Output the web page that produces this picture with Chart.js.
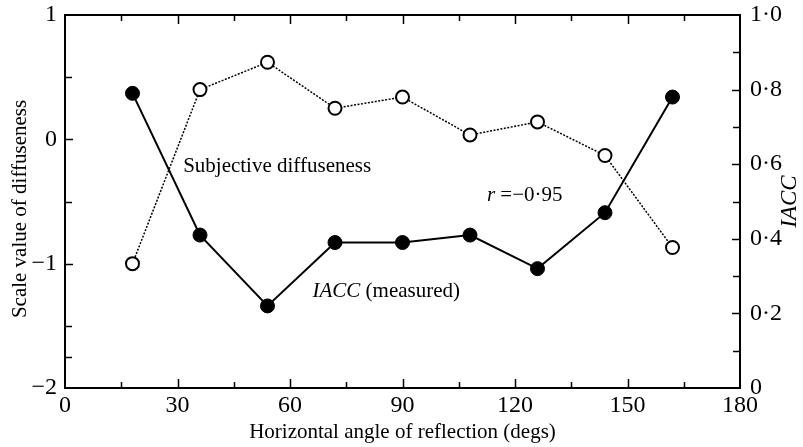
<!DOCTYPE html>
<html>
<head>
<meta charset="utf-8">
<script src="https://cdn.jsdelivr.net/npm/chart.js@4/dist/chart.umd.min.js"></script>
<style>
  html, body { margin: 0; padding: 0; background: #fff; }
  #wrap { width: 803px; height: 447px; }
</style>
</head>
<body>
<div id="wrap"><canvas id="c" width="803" height="447"></canvas></div>
<script>
// Reflection angles (degrees)
const angles = [18, 36, 54, 72, 90, 108, 126, 144, 162];
// Scale value of subjective diffuseness (left axis)
const diffuseness = [-1.00, 0.40, 0.62, 0.25, 0.34, 0.035, 0.14, -0.13, -0.87];
// Measured IACC (right axis)
const iacc = [0.79, 0.41, 0.22, 0.39, 0.39, 0.41, 0.32, 0.47, 0.78];

// Axis ticks
const xTicks = [0, 30, 60, 90, 120, 150, 180];
const xMinorTicks = [15, 45, 75, 105, 135, 165];
const leftTicks = [-2, -1, 0, 1];
const leftMinorTicks = [0.5, -0.5, -1.5, -1.75];
const rightTicks = [0, 0.2, 0.4, 0.6, 0.8, 1.0];
const rightMinorTicks = [0.1, 0.3, 0.5, 0.7, 0.9];

const SERIF = '"Liberation Serif", "Times New Roman", serif';
const FS = 21;      // titles and in-plot labels
const TICK_FS = 24; // tick labels

const fmtDot = v => (v === 0 ? '0' : v.toFixed(1).replace('.', '\u00B7'));
const fmtMinus = v => (v < 0 ? '\u2212' + Math.abs(v) : String(v));

// Keep the plot frame fixed regardless of label overhang
const noPad = s => { s.paddingTop = 0; s.paddingBottom = 0; s.paddingLeft = 0; s.paddingRight = 0; };
const hiddenGrid = { display: false, drawTicks: false, drawOnChartArea: false };

// Inward tick marks on all four sides plus the closed frame
const framePlugin = {
  id: 'frame',
  afterDraw(chart) {
    const { ctx, chartArea: a, scales } = chart;
    ctx.save();
    ctx.strokeStyle = '#000';
    ctx.lineWidth = 2;
    ctx.strokeRect(a.left, a.top, a.right - a.left, a.bottom - a.top);
    ctx.lineWidth = 1.5;
    const vTick = (vals, len) => vals.forEach(v => {
      const px = Math.round(scales.x.getPixelForValue(v)) + 0.5;
      ctx.beginPath();
      ctx.moveTo(px, a.bottom); ctx.lineTo(px, a.bottom - len);
      ctx.moveTo(px, a.top); ctx.lineTo(px, a.top + len);
      ctx.stroke();
    });
    vTick(xTicks.slice(1, -1), 9);
    vTick(xMinorTicks, 6);
    const hTick = (scale, vals, len, left) => vals.forEach(v => {
      const py = Math.round(scale.getPixelForValue(v)) + 0.5;
      ctx.beginPath();
      if (left) { ctx.moveTo(a.left, py); ctx.lineTo(a.left + len, py); }
      else { ctx.moveTo(a.right, py); ctx.lineTo(a.right - len, py); }
      ctx.stroke();
    });
    hTick(scales.y, leftTicks.slice(1, -1), 8, true);
    hTick(scales.y, leftMinorTicks, 7, true);
    hTick(scales.y2, rightTicks.slice(1, -1), 8, false);
    hTick(scales.y2, rightMinorTicks, 7, false);
    ctx.restore();
  }
};

// Vertical axis titles (both read bottom-to-top) and in-plot labels
const labelPlugin = {
  id: 'labels',
  afterDatasetsDraw(chart) {
    const { ctx, scales } = chart;
    const X = v => scales.x.getPixelForValue(v);
    const Y = v => scales.y.getPixelForValue(v);
    ctx.save();
    ctx.fillStyle = '#000';
    ctx.textBaseline = 'middle';
    ctx.textAlign = 'left';
    const runs = (x, y, parts) => {
      parts.forEach(([txt, italic]) => {
        ctx.font = (italic ? 'italic ' : '') + FS + 'px ' + SERIF;
        ctx.fillText(txt, x, y);
        x += ctx.measureText(txt).width;
      });
    };
    runs(X(31.5), Y(-0.22), [['Subjective diffuseness', false]]);
    runs(X(112.5), Y(-0.45), [['r', true], [' =\u22120\u00B795', false]]);
    runs(X(66), Y(-1.22), [['IACC', true], [' (measured)', false]]);

    const vTitle = (txt, cx, cy, font) => {
      ctx.save();
      ctx.translate(cx, cy);
      ctx.rotate(-Math.PI / 2);
      ctx.font = font;
      ctx.textAlign = 'center';
      ctx.fillText(txt, 0, 0);
      ctx.restore();
    };
    vTitle('Scale value of diffuseness', 20, Y(-0.56), FS + 'px ' + SERIF);
    vTitle('IACC', 790, scales.y2.getPixelForValue(0.5), 'italic 23px ' + SERIF);
    ctx.restore();
  }
};

new Chart(document.getElementById('c'), {
  type: 'line',
  data: {
    datasets: [
      {
        label: 'Subjective diffuseness',
        data: angles.map((a, i) => ({ x: a, y: diffuseness[i] })),
        yAxisID: 'y',
        borderColor: '#000',
        borderWidth: 1.5,
        borderDash: [2, 1.5],
        pointRadius: 6.5,
        pointBorderWidth: 2,
        pointBackgroundColor: '#fff',
        pointBorderColor: '#000',
        tension: 0
      },
      {
        label: 'IACC (measured)',
        data: angles.map((a, i) => ({ x: a, y: iacc[i] })),
        yAxisID: 'y2',
        borderColor: '#000',
        borderWidth: 2,
        pointRadius: 7,
        pointBorderWidth: 1,
        pointBackgroundColor: '#000',
        pointBorderColor: '#000',
        tension: 0
      }
    ]
  },
  options: {
    responsive: false,
    animation: false,
    devicePixelRatio: 1,
    layout: { padding: { top: 15, left: 0, right: 0, bottom: 0 } },
    plugins: { legend: { display: false }, tooltip: { enabled: false } },
    scales: {
      x: {
        type: 'linear', min: 0, max: 180,
        afterBuildTicks: s => { s.ticks = xTicks.map(v => ({ value: v })); },
        afterFit: s => { s.height = 59; noPad(s); },
        grid: hiddenGrid,
        border: { display: false },
        ticks: { color: '#000', padding: 3, maxRotation: 0, font: { family: SERIF, size: TICK_FS } },
        title: { display: true, text: 'Horizontal angle of reflection (degs)', color: '#000',
                 padding: { top: 0, bottom: 2 }, font: { family: SERIF, size: FS } }
      },
      y: {
        type: 'linear', position: 'left', min: -2, max: 1,
        afterBuildTicks: s => { s.ticks = leftTicks.map(v => ({ value: v })); },
        afterFit: s => { s.width = 65; noPad(s); },
        grid: hiddenGrid,
        border: { display: false },
        ticks: { color: '#000', padding: 8, callback: v => fmtMinus(v), font: { family: SERIF, size: TICK_FS } }
      },
      y2: {
        type: 'linear', position: 'right', min: 0, max: 1,
        afterBuildTicks: s => { s.ticks = rightTicks.map(v => ({ value: v })); },
        afterFit: s => { s.width = 63; noPad(s); },
        grid: hiddenGrid,
        border: { display: false },
        ticks: { color: '#000', padding: 10, callback: v => fmtDot(v), font: { family: SERIF, size: TICK_FS } }
      }
    }
  },
  plugins: [framePlugin, labelPlugin]
});
</script>
</body>
</html>
